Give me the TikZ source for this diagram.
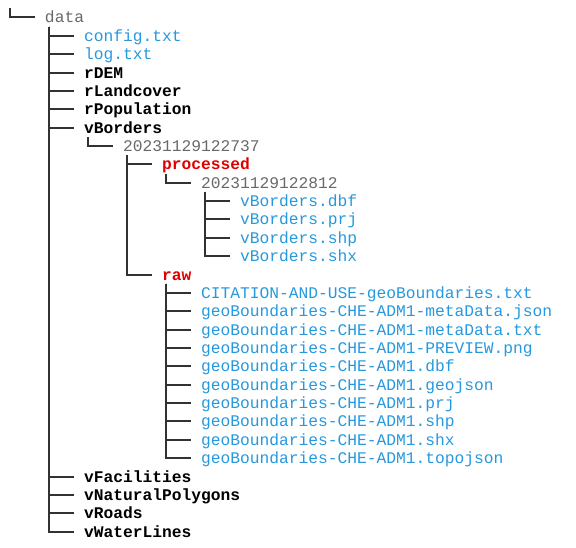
\documentclass[tikz,border=0pt]{standalone}
\usepackage{fontspec}
\usepackage{xcolor}
\usetikzlibrary{calc}
\newfontfamily\treemono{Liberation Mono}
\definecolor{fileblue}{RGB}{38,152,222}
\definecolor{dirred}{RGB}{225,0,0}
\definecolor{stampgray}{RGB}{105,105,105}
\definecolor{linegray}{RGB}{50,50,50}

\tikzset{
  item/.style={anchor=base west,inner sep=0pt,
    font=\treemono\fontsize{8.16pt}{10pt}\selectfont},
  fileitem/.style={item,text=fileblue},
  diritem/.style={item,text=black,font=\treemono\fontsize{8.16pt}{10pt}\selectfont\bfseries},
  rawitem/.style={diritem,text=dirred},
  stampitem/.style={item,text=stampgray},
  branch/.style={draw=linegray,line width=1bp}
}

\begin{document}
\begin{tikzpicture}[x=0.5bp,y=-0.5bp]
\useasboundingbox (0,0) rectangle (576,548);

% top level
\coordinate (top) at (10,8.3);
\node[stampitem] (data) at (44.6,23) {data};

% children of data
\node[fileitem] (config) at (83.6,41.36) {config.txt};
\node[fileitem] (log) at (83.6,59.72) {log.txt};
\node[diritem] (rdem) at (83.6,78.08) {rDEM};
\node[diritem] (rland) at (83.6,96.44) {rLandcover};
\node[diritem] (rpop) at (83.6,114.8) {rPopulation};
\node[diritem] (vborders) at (83.6,133.16) {vBorders};
\node[stampitem] (stampa) at (122.6,151.52) {20231129122737};
\node[rawitem] (processed) at (161.6,169.88) {processed};
\node[stampitem] (stampb) at (200.6,188.24) {20231129122812};
\node[fileitem] (bdbf) at (239.6,206.6) {vBorders.dbf};
\node[fileitem] (bprj) at (239.6,224.96) {vBorders.prj};
\node[fileitem] (bshp) at (239.6,243.32) {vBorders.shp};
\node[fileitem] (bshx) at (239.6,261.68) {vBorders.shx};
\node[rawitem] (raw) at (161.6,280.04) {raw};

% raw files
\node[fileitem] (citation) at (200.6,298.4) {CITATION-AND-USE-geoBoundaries.txt};
\node[fileitem] (metajson) at (200.6,316.76) {geoBoundaries-CHE-ADM1-metaData.json};
\node[fileitem] (metatxt) at (200.6,335.12) {geoBoundaries-CHE-ADM1-metaData.txt};
\node[fileitem] (preview) at (200.6,353.48) {geoBoundaries-CHE-ADM1-PREVIEW.png};
\node[fileitem] (gdbf) at (200.6,371.84) {geoBoundaries-CHE-ADM1.dbf};
\node[fileitem] (geojson) at (200.6,390.2) {geoBoundaries-CHE-ADM1.geojson};
\node[fileitem] (gprj) at (200.6,408.56) {geoBoundaries-CHE-ADM1.prj};
\node[fileitem] (gshp) at (200.6,426.92) {geoBoundaries-CHE-ADM1.shp};
\node[fileitem] (gshx) at (200.6,445.28) {geoBoundaries-CHE-ADM1.shx};
\node[fileitem] (topo) at (200.6,463.64) {geoBoundaries-CHE-ADM1.topojson};

\node[diritem] (vfac) at (83.6,482) {vFacilities};
\node[diritem] (vnat) at (83.6,500.36) {vNaturalPolygons};
\node[diritem] (vroads) at (83.6,518.72) {vRoads};
\node[diritem] (vwater) at (83.6,537.08) {vWaterLines};

% branches
\draw[branch] (top) |- ($(data.base west)+(-9.75,-5.5)$);
\foreach \c in {config,log,rdem,rland,rpop,vborders,vfac,vnat,vroads,vwater}
  \draw[branch] ($(data.base west)+(4.4,3.7)$) |- ($(\c.base west)+(-9.75,-5.5)$);
\draw[branch] ($(vborders.base west)+(4.4,3.7)$) |- ($(stampa.base west)+(-9.75,-5.5)$);
\foreach \c in {processed,raw}
  \draw[branch] ($(stampa.base west)+(4.4,3.7)$) |- ($(\c.base west)+(-9.75,-5.5)$);
\draw[branch] ($(processed.base west)+(4.4,3.7)$) |- ($(stampb.base west)+(-9.75,-5.5)$);
\foreach \c in {bdbf,bprj,bshp,bshx}
  \draw[branch] ($(stampb.base west)+(4.4,3.7)$) |- ($(\c.base west)+(-9.75,-5.5)$);
\foreach \c in {citation,metajson,metatxt,preview,gdbf,geojson,gprj,gshp,gshx,topo}
  \draw[branch] ($(raw.base west)+(4.4,3.7)$) |- ($(\c.base west)+(-9.75,-5.5)$);
\end{tikzpicture}
\end{document}
